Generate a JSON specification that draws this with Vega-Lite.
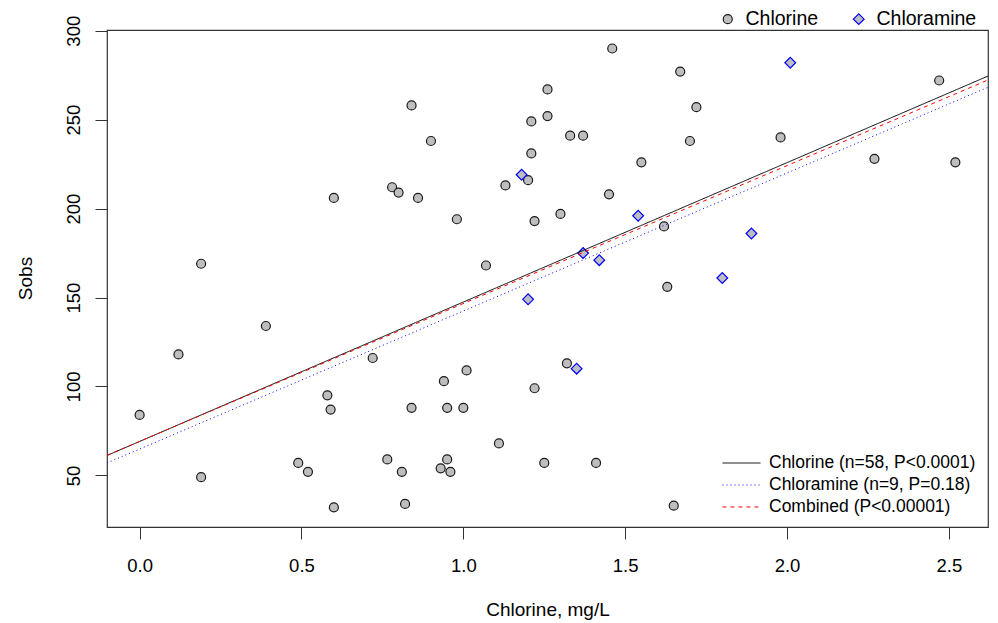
{
  "$schema": "https://vega.github.io/schema/vega-lite/v6.json",
  "width": 881,
  "height": 497,
  "autosize": {"type": "none"},
  "padding": {"left": 107, "top": 30, "right": 10, "bottom": 96},
  "background": "white",
  "config": {
    "font": "Liberation Sans",
    "view": {"stroke": "#333333", "strokeWidth": 1.2},
    "axis": {
      "grid": false,
      "domain": false,
      "tickColor": "#333333",
      "tickSize": 12,
      "tickWidth": 1,
      "labelFont": "Liberation Sans",
      "labelFontSize": 18.5,
      "labelColor": "#000000",
      "titleFont": "Liberation Sans",
      "titleFontSize": 19,
      "titleFontWeight": "normal",
      "titleColor": "#000000"
    },
    "legend": {
      "labelFont": "Liberation Sans",
      "labelColor": "#000000",
      "padding": 0
    }
  },
  "datasets": {
    "pts": [
      {"chlorine": 0.00, "sobs": 84, "group": "Chlorine"},
      {"chlorine": 0.12, "sobs": 118, "group": "Chlorine"},
      {"chlorine": 0.19, "sobs": 169, "group": "Chlorine"},
      {"chlorine": 0.19, "sobs": 49, "group": "Chlorine"},
      {"chlorine": 0.39, "sobs": 134, "group": "Chlorine"},
      {"chlorine": 0.60, "sobs": 206, "group": "Chlorine"},
      {"chlorine": 0.60, "sobs": 32, "group": "Chlorine"},
      {"chlorine": 0.49, "sobs": 57, "group": "Chlorine"},
      {"chlorine": 0.52, "sobs": 52, "group": "Chlorine"},
      {"chlorine": 0.58, "sobs": 95, "group": "Chlorine"},
      {"chlorine": 0.59, "sobs": 87, "group": "Chlorine"},
      {"chlorine": 0.72, "sobs": 116, "group": "Chlorine"},
      {"chlorine": 0.765, "sobs": 59, "group": "Chlorine"},
      {"chlorine": 0.78, "sobs": 212, "group": "Chlorine"},
      {"chlorine": 0.80, "sobs": 209, "group": "Chlorine"},
      {"chlorine": 0.81, "sobs": 52, "group": "Chlorine"},
      {"chlorine": 0.82, "sobs": 34, "group": "Chlorine"},
      {"chlorine": 0.84, "sobs": 258, "group": "Chlorine"},
      {"chlorine": 0.84, "sobs": 88, "group": "Chlorine"},
      {"chlorine": 0.86, "sobs": 206, "group": "Chlorine"},
      {"chlorine": 0.90, "sobs": 238, "group": "Chlorine"},
      {"chlorine": 0.93, "sobs": 54, "group": "Chlorine"},
      {"chlorine": 0.94, "sobs": 103, "group": "Chlorine"},
      {"chlorine": 0.95, "sobs": 59, "group": "Chlorine"},
      {"chlorine": 0.95, "sobs": 88, "group": "Chlorine"},
      {"chlorine": 0.96, "sobs": 52, "group": "Chlorine"},
      {"chlorine": 0.98, "sobs": 194, "group": "Chlorine"},
      {"chlorine": 1.00, "sobs": 88, "group": "Chlorine"},
      {"chlorine": 1.01, "sobs": 109, "group": "Chlorine"},
      {"chlorine": 1.07, "sobs": 168, "group": "Chlorine"},
      {"chlorine": 1.11, "sobs": 68, "group": "Chlorine"},
      {"chlorine": 1.13, "sobs": 213, "group": "Chlorine"},
      {"chlorine": 1.20, "sobs": 216, "group": "Chlorine"},
      {"chlorine": 1.21, "sobs": 249, "group": "Chlorine"},
      {"chlorine": 1.21, "sobs": 231, "group": "Chlorine"},
      {"chlorine": 1.22, "sobs": 193, "group": "Chlorine"},
      {"chlorine": 1.22, "sobs": 99, "group": "Chlorine"},
      {"chlorine": 1.25, "sobs": 57, "group": "Chlorine"},
      {"chlorine": 1.26, "sobs": 267, "group": "Chlorine"},
      {"chlorine": 1.26, "sobs": 252, "group": "Chlorine"},
      {"chlorine": 1.30, "sobs": 197, "group": "Chlorine"},
      {"chlorine": 1.32, "sobs": 113, "group": "Chlorine"},
      {"chlorine": 1.33, "sobs": 241, "group": "Chlorine"},
      {"chlorine": 1.37, "sobs": 241, "group": "Chlorine"},
      {"chlorine": 1.41, "sobs": 57, "group": "Chlorine"},
      {"chlorine": 1.45, "sobs": 208, "group": "Chlorine"},
      {"chlorine": 1.46, "sobs": 290, "group": "Chlorine"},
      {"chlorine": 1.55, "sobs": 226, "group": "Chlorine"},
      {"chlorine": 1.62, "sobs": 190, "group": "Chlorine"},
      {"chlorine": 1.63, "sobs": 156, "group": "Chlorine"},
      {"chlorine": 1.65, "sobs": 33, "group": "Chlorine"},
      {"chlorine": 1.67, "sobs": 277, "group": "Chlorine"},
      {"chlorine": 1.70, "sobs": 238, "group": "Chlorine"},
      {"chlorine": 1.72, "sobs": 257, "group": "Chlorine"},
      {"chlorine": 1.98, "sobs": 240, "group": "Chlorine"},
      {"chlorine": 2.27, "sobs": 228, "group": "Chlorine"},
      {"chlorine": 2.47, "sobs": 272, "group": "Chlorine"},
      {"chlorine": 2.52, "sobs": 226, "group": "Chlorine"},
      {"chlorine": 1.18, "sobs": 219, "group": "Chloramine"},
      {"chlorine": 1.20, "sobs": 149, "group": "Chloramine"},
      {"chlorine": 1.37, "sobs": 175, "group": "Chloramine"},
      {"chlorine": 1.42, "sobs": 171, "group": "Chloramine"},
      {"chlorine": 1.35, "sobs": 110, "group": "Chloramine"},
      {"chlorine": 1.54, "sobs": 196, "group": "Chloramine"},
      {"chlorine": 1.80, "sobs": 161, "group": "Chloramine"},
      {"chlorine": 1.89, "sobs": 186, "group": "Chloramine"},
      {"chlorine": 2.01, "sobs": 282, "group": "Chloramine"}
    ],
    "fits": [
      {"fit": "Chlorine (n=58, P<0.0001)", "chlorine": -0.1008, "sobs": 61.2},
      {"fit": "Chlorine (n=58, P<0.0001)", "chlorine": 2.6208, "sobs": 274.5},
      {"fit": "Chloramine (n=9, P=0.18)", "chlorine": -0.1008, "sobs": 57.0},
      {"fit": "Chloramine (n=9, P=0.18)", "chlorine": 2.6208, "sobs": 268.2},
      {"fit": "Combined (P<0.00001)", "chlorine": -0.1008, "sobs": 61.3},
      {"fit": "Combined (P<0.00001)", "chlorine": 2.6208, "sobs": 272.3}
    ]
  },
  "encoding": {
    "x": {
      "field": "chlorine",
      "type": "quantitative",
      "title": "Chlorine, mg/L",
      "scale": {"domain": [-0.1008, 2.6208], "nice": false, "zero": false},
      "axis": {
        "values": [0, 0.5, 1, 1.5, 2, 2.5],
        "format": ".1f",
        "labelPadding": 17,
        "labelBaseline": "top",
        "titleBaseline": "alphabetic",
        "titleY": 88.7
      }
    },
    "y": {
      "field": "sobs",
      "type": "quantitative",
      "title": "Sobs",
      "scale": {"domain": [21.0, 300.4], "nice": false, "zero": false},
      "axis": {
        "values": [50, 100, 150, 200, 250, 300],
        "labelAngle": 270,
        "labelAlign": "center",
        "labelBaseline": "alphabetic",
        "labelPadding": 15.5,
        "titleAngle": 270,
        "titleAlign": "center",
        "titleBaseline": "alphabetic",
        "titleX": -76,
        "titleY": 248
      }
    }
  },
  "layer": [
    {
      "data": {"name": "pts"},
      "mark": {"type": "point", "filled": true, "fill": "#bebebe", "strokeWidth": 1.2, "opacity": 1},
      "encoding": {
        "size": {
          "field": "group",
          "type": "nominal",
          "scale": {"domain": ["Chlorine", "Chloramine"], "range": [81, 115]},
          "legend": {
            "title": null,
            "orient": "none",
            "direction": "horizontal",
            "legendX": 611,
            "legendY": -21,
            "labelFontSize": 19.5,
            "labelOffset": 8,
            "columnPadding": 30,
            "symbolFillColor": "#bebebe",
            "symbolStrokeWidth": 1.2,
            "symbolOpacity": 1
          }
        },
        "shape": {
          "field": "group",
          "type": "nominal",
          "scale": {"domain": ["Chlorine", "Chloramine"], "range": ["circle", "diamond"]},
          "legend": {
            "title": null,
            "orient": "none",
            "direction": "horizontal",
            "legendX": 611,
            "legendY": -21,
            "labelFontSize": 19.5,
            "labelOffset": 8,
            "columnPadding": 30,
            "symbolFillColor": "#bebebe",
            "symbolStrokeWidth": 1.2,
            "symbolOpacity": 1
          }
        },
        "stroke": {
          "field": "group",
          "type": "nominal",
          "scale": {"domain": ["Chlorine", "Chloramine"], "range": ["#1a1a1a", "#0000ff"]},
          "legend": {
            "title": null,
            "orient": "none",
            "direction": "horizontal",
            "legendX": 611,
            "legendY": -21,
            "labelFontSize": 19.5,
            "labelOffset": 8,
            "columnPadding": 30,
            "symbolFillColor": "#bebebe",
            "symbolStrokeWidth": 1.2,
            "symbolOpacity": 1
          }
        }
      }
    },
    {
      "data": {"name": "fits"},
      "mark": {"type": "line", "strokeWidth": 1, "clip": true},
      "encoding": {
        "color": {
          "field": "fit",
          "type": "nominal",
          "scale": {
            "domain": ["Chlorine (n=58, P<0.0001)", "Chloramine (n=9, P=0.18)", "Combined (P<0.00001)"],
            "range": ["#000000", "#0000ff", "#ff0000"]
          },
          "legend": {
            "title": null,
            "orient": "none",
            "legendX": 615,
            "legendY": 422,
            "symbolType": "stroke",
            "symbolSize": 1444,
            "symbolStrokeWidth": 1,
            "clipHeight": 22,
            "rowPadding": 0,
            "labelFontSize": 17.5,
            "labelOffset": 8,
            "labelLimit": 400
          }
        },
        "strokeDash": {
          "field": "fit",
          "type": "nominal",
          "scale": {
            "domain": ["Chlorine (n=58, P<0.0001)", "Chloramine (n=9, P=0.18)", "Combined (P<0.00001)"],
            "range": [[1, 0], [1, 3], [4, 4]]
          },
          "legend": {
            "title": null,
            "orient": "none",
            "legendX": 615,
            "legendY": 422,
            "symbolType": "stroke",
            "symbolSize": 1444,
            "symbolStrokeWidth": 1,
            "clipHeight": 22,
            "rowPadding": 0,
            "labelFontSize": 17.5,
            "labelOffset": 8,
            "labelLimit": 400
          }
        }
      }
    }
  ]
}
